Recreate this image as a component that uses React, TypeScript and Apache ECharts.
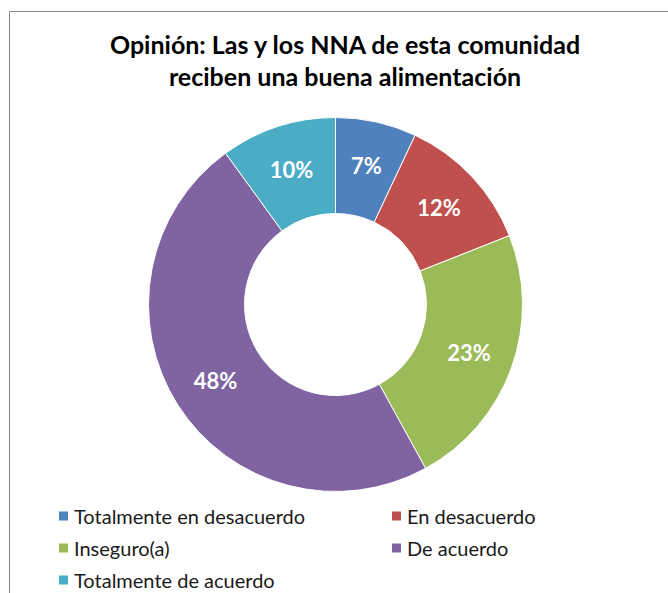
import React, { useEffect, useRef } from "react";
import * as echarts from "echarts";

const titleLines = ["Opinión: Las y los NNA de esta comunidad", "reciben una buena alimentación"];
const categories = ["Totalmente en desacuerdo", "En desacuerdo", "Inseguro(a)", "De acuerdo", "Totalmente de acuerdo"];
const values = [7, 12, 23, 48, 10];
const colors = ["#4F81BD", "#C0504D", "#9BBB59", "#8064A2", "#4BACC6"];
const legendLeftItems = ["Totalmente en desacuerdo", "Inseguro(a)", "Totalmente de acuerdo"];
const legendRightItems = ["En desacuerdo", "De acuerdo"];

export default function App() {
  const ref = useRef<HTMLDivElement>(null);
  useEffect(() => {
    if (!ref.current) return;
    const chart = echarts.init(ref.current, null, { renderer: "svg" });
    const legendCommon = {
      orient: "vertical" as const,
      top: 506,
      height: 87,
      padding: 0,
      itemWidth: 11,
      itemHeight: 11,
      itemGap: 12,
      icon: "rect",
      selectedMode: false,
      textStyle: { fontFamily: "Lato", fontSize: 20, color: "#1a1a1a", lineHeight: 20 },
    };
    chart.setOption({
      animation: false,
      backgroundColor: "#ffffff",
      color: colors,
      title: {
        text: titleLines.join("\n"),
        left: 345,
        textAlign: "center",
        top: 28,
        padding: 0,
        textStyle: { fontFamily: "Lato", fontWeight: "bold", fontSize: 25, lineHeight: 32, color: "#000" },
      },
      graphic: [
        {
          type: "rect",
          shape: { x: 9.5, y: 11.5, width: 800, height: 800 },
          style: { fill: "none", stroke: "#878787", lineWidth: 1 },
          silent: true,
        },
      ],
      legend: [
        { ...legendCommon, left: 57, data: legendLeftItems },
        { ...legendCommon, left: 390, data: legendRightItems },
      ],
      series: [
        {
          type: "pie",
          center: [335.5, 304.5],
          radius: [91, 187],
          startAngle: 90,
          clockwise: true,
          avoidLabelOverlap: false,
          itemStyle: { borderColor: "#ffffff", borderWidth: 1 },
          label: {
            show: true,
            position: "inside",
            formatter: "{c}%",
            color: "#fff",
            fontFamily: "Lato",
            fontWeight: "bold",
            fontSize: 22,
          },
          labelLine: { show: false },
          emphasis: { disabled: true },
          data: categories.map((c, i) => ({ name: c, value: values[i] })),
        },
      ],
    });
    return () => chart.dispose();
  }, []);
  return <div ref={ref} style={{ position: "absolute", left: 0, top: 0, width: 668, height: 593 }} />;
}
